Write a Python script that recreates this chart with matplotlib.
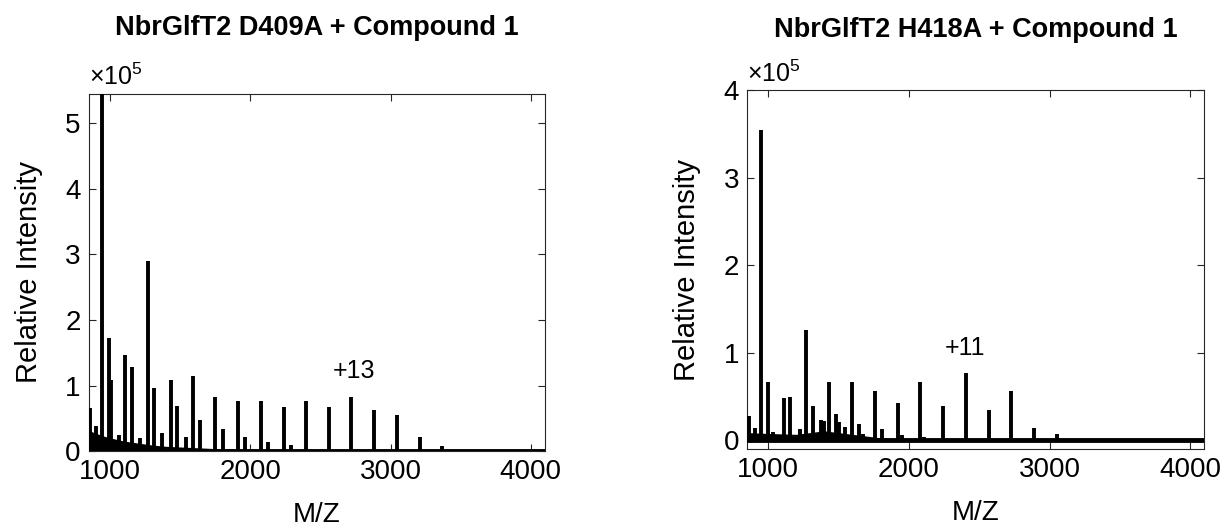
import matplotlib
matplotlib.use("Agg")
import matplotlib.pyplot as plt

plt.rcParams['font.family'] = ['Liberation Sans', 'DejaVu Sans']
plt.rcParams['mathtext.fontset'] = 'custom'
plt.rcParams['mathtext.rm'] = 'Liberation Sans'
plt.rcParams['mathtext.it'] = 'Liberation Sans:italic'

# ---------------- data (intensities in units of 1e5) ----------------
titles = ["NbrGlfT2 D409A + Compound 1", "NbrGlfT2 H418A + Compound 1"]
x_ticks = [1000, 2000, 3000, 4000]
y_ticks_left = [0, 1, 2, 3, 4, 5]
y_ticks_right = [0, 1, 2, 3, 4]

# Left spectrum: peak m/z and heights
left_mz = [857, 900, 944, 993, 1006, 1060, 1107, 1156, 1210, 1267, 1314, 1368, 1431, 1474, 1539,
           1594, 1640, 1751, 1803, 1915, 1964, 2078, 2129, 2238, 2290, 2398,
           2562, 2720, 2883, 3046, 3207, 3368]
left_h = [0.65, 0.38, 5.60, 1.73, 1.09, 0.25, 1.46, 1.28, 0.2, 2.90, 0.97, 0.27, 1.08, 0.69, 0.21,
          1.15, 0.48, 0.83, 0.34, 0.77, 0.22, 0.77, 0.14, 0.68, 0.09, 0.77,
          0.67, 0.83, 0.62, 0.55, 0.22, 0.08]
# Left decaying baseline envelope
left_base_mz = [850, 900, 950, 1000, 1100, 1200, 1300, 1400, 1500, 1600, 1700, 1800, 2000, 4100]
left_base_h = [0.29, 0.25, 0.21, 0.18, 0.13, 0.10, 0.07, 0.05, 0.04, 0.03, 0.02, 0.01, 0.0, 0.0]

# Right spectrum: peak m/z and heights
right_mz = [859, 907, 950, 1001, 1030, 1108, 1156, 1227, 1269, 1321, 1374, 1395,
            1435, 1482, 1500, 1547, 1596, 1646, 1670, 1757, 1807, 1921, 1950,
            2080, 2110, 2245, 2407, 2568, 2728, 2889, 3051]
right_h = [0.28, 0.14, 3.54, 0.66, 0.09, 0.48, 0.49, 0.13, 1.26, 0.39, 0.23, 0.22,
           0.66, 0.30, 0.21, 0.15, 0.67, 0.19, 0.07, 0.56, 0.13, 0.42, 0.06,
           0.67, 0.04, 0.39, 0.77, 0.35, 0.56, 0.14, 0.07]
# Right noise floor envelope
right_base_mz = [850, 1000, 1200, 1400, 1500, 1700, 1800, 1900, 4100]
right_base_h = [0.07, 0.06, 0.05, 0.09, 0.07, 0.03, 0.01, 0.0, 0.0]

annot_text = ["+13", "+11"]
annot_mz = [2740, 2400]
annot_y = [1.22, 1.05]

xlim = (850, 4100)
ylims = [(0, 5.45), (-0.1, 4.0)]

# ---------------- figure ----------------
fig = plt.figure(figsize=(12.25, 5.27), dpi=100)
ax_l = fig.add_axes([0.0727, 0.144, 0.372, 0.678])
ax_r = fig.add_axes([0.610, 0.148, 0.373, 0.681])

axc = '0.15'
title_y = [1 - 28 / 527, 1 - 30 / 527]
panels = [
    (ax_l, left_mz, left_h, left_base_mz, left_base_h, y_ticks_left),
    (ax_r, right_mz, right_h, right_base_mz, right_base_h, y_ticks_right),
]
for i, (ax, mz, h, bmz, bh, yt) in enumerate(panels):
    ax.fill_between(bmz, 0, bh, color='k', lw=0)
    ax.plot(bmz, bh, color='k', lw=1.5)
    ax.axhline(0, color='k', lw=3.5, zorder=3)
    ax.vlines(mz, 0, h, color='k', lw=2.8, zorder=4)
    ax.set_xlim(*xlim)
    ax.set_ylim(*ylims[i])
    ax.set_xticks(x_ticks)
    ax.set_yticks(yt)
    ax.set_xticklabels([str(t) for t in x_ticks])
    ax.set_yticklabels([str(t) for t in yt])
    ax.tick_params(direction='in', length=5, width=0.8, top=True, right=True,
                   labelsize=20, colors=axc, pad=6)
    ax.tick_params(axis='both', labelcolor='k')
    for s in ax.spines.values():
        s.set_color(axc)
        s.set_linewidth(0.8)
    ax.set_xlabel("M/Z", fontsize=20, labelpad=12)
    ax.set_ylabel("Relative Intensity", fontsize=21, labelpad=16)
    bb = ax.get_position()
    fig.text((bb.x0 + bb.x1) / 2, title_y[i], titles[i], fontsize=19.5,
             fontweight='bold', ha='center', va='center')
    ax.text(0.0, 1.01, r'$\times10^{5}$', transform=ax.transAxes,
            fontsize=18, ha='left', va='bottom')
    ax.text(annot_mz[i], annot_y[i], annot_text[i], fontsize=18,
            ha='center', va='center')

fig.savefig("out.png", dpi=100)
